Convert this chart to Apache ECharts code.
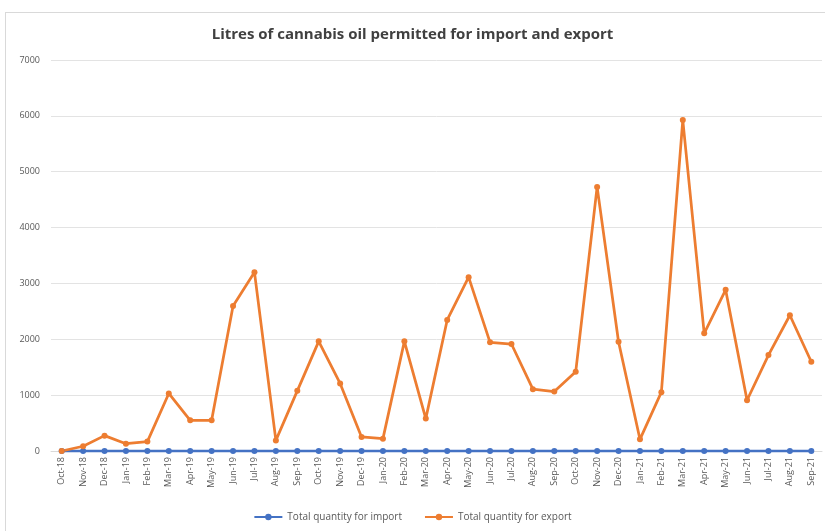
<!DOCTYPE html>
<html>
<head>
<meta charset="utf-8">
<script src="https://cdn.jsdelivr.net/npm/echarts@6/dist/echarts.min.js"></script>
<style>
html,body{margin:0;padding:0;background:#fff;}
#frame{position:absolute;left:5px;top:12px;width:830px;height:530px;border:1px solid #d9d9d9;}
#chart{position:absolute;left:0;top:0;width:825px;height:531px;}
</style>
</head>
<body>
<div id="frame"></div>
<div id="chart"></div>
<script>
const categories = ["Oct-18","Nov-18","Dec-18","Jan-19","Feb-19","Mar-19","Apr-19","May-19","Jun-19","Jul-19","Aug-19","Sep-19","Oct-19","Nov-19","Dec-19","Jan-20","Feb-20","Mar-20","Apr-20","May-20","Jun-20","Jul-20","Aug-20","Sep-20","Oct-20","Nov-20","Dec-20","Jan-21","Feb-21","Mar-21","Apr-21","May-21","Jun-21","Jul-21","Aug-21","Sep-21"];
const importValues = [0,0,0,0,0,0,0,0,0,0,0,0,0,0,0,0,0,0,0,0,0,0,0,0,0,0,0,0,0,0,0,0,0,0,0,0];
const exportValues = [0,85,275,130,168,1030,550,550,2597,3202,190,1077,1963,1209,251,221,1963,580,2346,3112,1945,1915,1107,1065,1418,4728,1957,209,1053,5925,2107,2885,909,1717,2430,1597];
const yTicks = {min:0, max:7000, interval:1000};

const chart = echarts.init(document.getElementById('chart'));
chart.setOption({
  backgroundColor: 'transparent',
  animation: false,
  title: {
    text: 'Litres of cannabis oil permitted for import and export',
    left: 'center', top: 22,
    textStyle: {fontFamily: 'Open Sans', fontSize: 15, fontWeight: 'bold', color: '#404040'}
  },
  legend: {
    bottom: 4, left: 'center', itemGap: 22, itemWidth: 28, itemHeight: 8,
    textStyle: {fontFamily: 'Open Sans', fontSize: 10, color: '#595959'},
    data: ['Total quantity for import','Total quantity for export']
  },
  grid: {left: 51, right: 3, top: 60, bottom: 80, containLabel: false},
  xAxis: {
    type: 'category', data: categories, boundaryGap: true,
    axisLine: {lineStyle: {color: '#d9d9d9'}},
    axisTick: {show: false},
    axisLabel: {rotate: 90, interval: 0, margin: 6, fontFamily: 'Open Sans', fontSize: 9, color: '#595959'}
  },
  yAxis: {
    type: 'value', min: yTicks.min, max: yTicks.max, interval: yTicks.interval,
    axisLine: {show: false}, axisTick: {show: false},
    splitLine: {lineStyle: {color: '#e3e3e3', width: 1}},
    axisLabel: {margin: 11, fontFamily: 'Open Sans', fontSize: 9, color: '#595959',
      formatter: function (v) { return String(v); }}
  },
  series: [
    {name: 'Total quantity for import', type: 'line', data: importValues,
     symbol: 'circle', symbolSize: 6,
     itemStyle: {color: '#4472C4'}, lineStyle: {color: '#4472C4', width: 2.75}},
    {name: 'Total quantity for export', type: 'line', data: exportValues,
     symbol: 'circle', symbolSize: 6,
     itemStyle: {color: '#ED7D31'}, lineStyle: {color: '#ED7D31', width: 2.75}}
  ]
});
</script>
</body>
</html>
